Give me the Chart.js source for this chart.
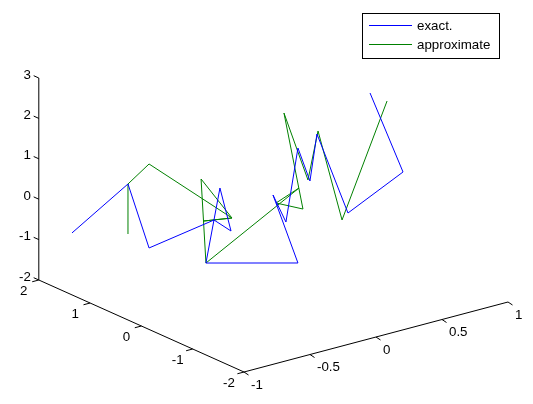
<!DOCTYPE html>
<html><head><meta charset="utf-8">
<script src="https://cdn.jsdelivr.net/npm/chart.js@4"></script>
<style>html,body{margin:0;padding:0;background:#fff;overflow:hidden}</style>
</head><body>
<canvas id="c" width="533" height="404" style="display:block;width:533px;height:404px"></canvas>
<script>
// ---- data (3-D points) ----
const xTicks = [-1, -0.5, 0, 0.5, 1];
const yTicks = [2, 1, 0, -1, -2];
const zTicks = [-2, -1, 0, 1, 2, 3];
const seriesNames = ['exact.', 'approximate'];

const exactX = [-0.943, -0.713, -0.942, -0.45, -0.321, -0.405, -0.511, 0.186, -0.003, 0.095, 0.186, 0.277, 0.330, 0.565, 0.982, 0.732];
const exactY = [1.5, 1, 0, 0, 0, 0, 0, 0, 0, 0, 0, 0, 0, 0, 0, 0];
const exactZ = [-0.60, 0.697, -0.119, 0.147, -0.237, 0.90, -0.865, -1.468, 0.379, -0.375, 1.378, 0.483, 1.600, -0.559, 0.095, 2.267];

const approxX = [-0.713, -0.713, -0.942, -0.314, -0.530, -0.314, -0.548, -0.511, 0.194, 0.020, 0.224, 0.080, 0.262, 0.338, 0.520, 0.861];
const approxY = [1, 1, 0, 0, 0, 0, 0, 0, 0, 0, 0, 0, 0, 0, 0, 0];
const approxZ = [-0.541, 0.697, 1.960, 0.079, 0.191, 0.079, 1.247, -0.865, 0.381, 0.161, -0.165, 2.336, 0.521, 1.668, -0.693, 1.957];

const axisLimits = { x: [-1, 1], y: [-2, 2], z: [-2, 3] };

// ---- camera model (3-D view -> 2-D plane) ----
const VIEW = { ox: 273.4, oy: 210.2, ex: [132, -35], ey: [-51.3, -23], ez: [0, -40.4] };
function project(x, y, z) {
  return {
    x: VIEW.ox + VIEW.ex[0] * x + VIEW.ey[0] * y + VIEW.ez[0] * z,
    y: VIEW.oy + VIEW.ex[1] * x + VIEW.ey[1] * y + VIEW.ez[1] * z
  };
}
function toPoints(X, Y, Z) { return X.map((v, i) => project(v, Y[i], Z[i])); }

const FONT = '13.33px "Liberation Sans", Arial, sans-serif';

const axes3d = {
  id: 'axes3d',
  beforeDatasetsDraw(chart) {
    const ctx = chart.ctx, sx = chart.scales.x, sy = chart.scales.y;
    const P = (x, y, z) => { const p = project(x, y, z); return [sx.getPixelForValue(p.x), sy.getPixelForValue(p.y)]; };
    const [x0, x1] = axisLimits.x, [y0, y1] = axisLimits.y, [z0, z1] = axisLimits.z;
    ctx.save();
    ctx.strokeStyle = '#000'; ctx.lineWidth = 1;
    const line = (a, b) => { ctx.beginPath(); ctx.moveTo(a[0], a[1]); ctx.lineTo(b[0], b[1]); ctx.stroke(); };
    line(P(x0, y1, z0), P(x0, y1, z1));   // z axis
    line(P(x0, y1, z0), P(x0, y0, z0));   // y axis
    line(P(x0, y0, z0), P(x1, y0, z0));   // x axis
    ctx.fillStyle = '#000'; ctx.font = FONT;
    // z ticks
    ctx.textAlign = 'right'; ctx.textBaseline = 'middle';
    zTicks.forEach(t => { const p = P(x0, y1, t); line(p, [p[0] - 5.1, p[1] - 2.3]); ctx.fillText(String(t), p[0] - 8, p[1] - 3); });
    // y ticks
    ctx.textAlign = 'center';
    yTicks.forEach(t => { const p = P(x0, t, z0); line(p, [p[0] - 6.6, p[1] + 1.75]); ctx.fillText(String(t), p[0] - 15, p[1] + 11); });
    // x ticks
    ctx.textAlign = 'left';
    xTicks.forEach(t => { const p = P(t, y0, z0); line(p, [p[0] + 4.5, p[1] + 3]); ctx.fillText(String(t), p[0] + 7, p[1] + 13); });
    ctx.restore();
  },
  afterDraw(chart) {
    const ctx = chart.ctx;
    const ds = chart.data.datasets;
    ctx.save();
    ctx.fillStyle = '#fff'; ctx.fillRect(362, 13, 137, 45);
    ctx.strokeStyle = '#000'; ctx.lineWidth = 1; ctx.strokeRect(362.5, 13.5, 137, 45);
    ctx.font = FONT; ctx.textAlign = 'left'; ctx.textBaseline = 'middle';
    ds.forEach((d, i) => {
      const y = 25.5 + i * 19;
      ctx.strokeStyle = d.borderColor; ctx.beginPath(); ctx.moveTo(369, y); ctx.lineTo(412, y); ctx.stroke();
      ctx.fillStyle = '#000'; ctx.fillText(d.label, 417, y + 1);
    });
    ctx.restore();
  }
};

new Chart(document.getElementById('c'), {
  type: 'scatter',
  data: {
    datasets: [
      { label: seriesNames[0], data: toPoints(exactX, exactY, exactZ), showLine: true, borderColor: '#0000ff', borderWidth: 1, pointRadius: 0, tension: 0, fill: false },
      { label: seriesNames[1], data: toPoints(approxX, approxY, approxZ), showLine: true, borderColor: '#008000', borderWidth: 1, pointRadius: 0, tension: 0, fill: false }
    ]
  },
  options: {
    responsive: false, animation: false, devicePixelRatio: 1,
    layout: { padding: 0 },
    scales: {
      x: { type: 'linear', min: 0, max: 533, display: false },
      y: { type: 'linear', min: 0, max: 404, reverse: true, display: false }
    },
    plugins: { legend: { display: false }, tooltip: { enabled: false } }
  },
  plugins: [axes3d]
});
</script>
</body></html>
